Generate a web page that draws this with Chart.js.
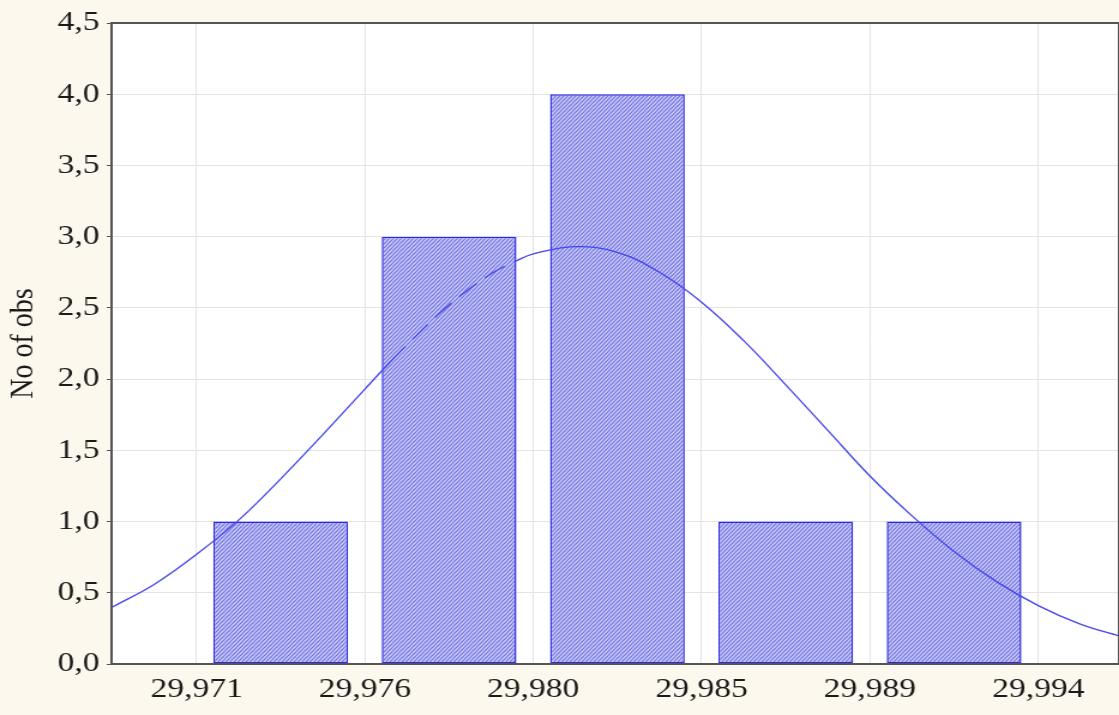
<!DOCTYPE html>
<html>
<head>
<meta charset="utf-8">
<script src="https://cdn.jsdelivr.net/npm/chart.js@4/dist/chart.umd.min.js"></script>
<style>
  html, body { margin: 0; padding: 0; background: #fdf8ee; overflow: hidden; }
  #wrap { width: 933px; height: 715px; transform: scaleX(1.1994); transform-origin: 0 0; }
</style>
</head>
<body>
<div id="wrap"><canvas id="histChart" width="933" height="715"></canvas></div>
<script>
// bin edge labels (ticks 0..5) and bar counts centred between them
const xTickLabels = ['29,971', '29,976', '29,980', '29,985', '29,989', '29,994'];
const binCenters = [0.5, 1.5, 2.5, 3.5, 4.5];
const binCounts = [1, 3, 4, 1, 1];

// fitted normal curve (x in tick units)
const curveX = [-0.5, -0.25, 0, 0.25, 0.5, 0.75, 1, 1.15, 1.25, 1.5, 1.75, 1.9, 2, 2.25, 2.5,
                2.75, 3, 3.25, 3.5, 3.75, 4, 4.25, 4.5, 4.75, 5, 5.25, 5.5];
const curveY = [0.40, 0.56, 0.77, 1.01, 1.30, 1.61, 1.93, 2.12, 2.24, 2.52, 2.74, 2.83, 2.88, 2.93, 2.89,
                2.75, 2.54, 2.27, 1.96, 1.64, 1.32, 1.04, 0.79, 0.58, 0.41, 0.28, 0.19];

// hatch pattern for the bars
function makeHatch(ctx) {
    const c = document.createElement('canvas');
    c.width = 4; c.height = 4;
    const g = c.getContext('2d');
    g.fillStyle = '#dadaf9';
    g.fillRect(0, 0, 4, 4);
    g.strokeStyle = '#6e6ee4';
    g.lineWidth = 1.4;
    g.beginPath();
    g.moveTo(-1, 5); g.lineTo(5, -1);
    g.moveTo(-1, 1); g.lineTo(1, -1);
    g.moveTo(3, 5); g.lineTo(5, 3);
    g.stroke();
    const p = ctx.createPattern(c, 'repeat');
    // page is stretched 1.2x horizontally, undo that so stripes stay at 45deg
    p.setTransform(new DOMMatrix().scale(1 / 1.2, 1));
    return p;
}

const frame = {
    id: 'frame',
    beforeDraw(chart) {
        const { ctx, chartArea: a } = chart;
        ctx.save();
        ctx.fillStyle = '#ffffff';
        ctx.fillRect(a.left, a.top, a.right - a.left, a.bottom - a.top);
        ctx.restore();
    },
    afterDraw(chart) {
        const { ctx, chartArea: a } = chart;
        ctx.save();
        ctx.strokeStyle = '#555555';
        ctx.lineWidth = 2;
        ctx.strokeRect(a.left, a.top, a.right - a.left, a.bottom - a.top);
        ctx.restore();
    }
};

const ctx = document.getElementById('histChart').getContext('2d');
new Chart(ctx, {
    data: {
        datasets: [
            {
                type: 'line',
                data: curveX.map((x, i) => ({ x: x, y: curveY[i] })),
                borderColor: '#4646ee',
                borderWidth: 1.3,
                pointRadius: 0,
                tension: 0.4,
                fill: false,
                segment: {
                    // the curve looks broken where it passes over the second bar
                    borderDash: (s) => (s.p0.parsed.x >= 1.15 && s.p0.parsed.x < 1.9) ? [20, 9] : undefined
                },
                order: 0
            },
            {
                type: 'bar',
                data: binCenters.map((x, i) => ({ x: x, y: binCounts[i] })),
                backgroundColor: makeHatch(ctx),
                borderColor: '#2a2ae0',
                borderWidth: 1.5,
                borderSkipped: false,
                barPercentage: 0.8,
                categoryPercentage: 1,
                order: 1
            }
        ]
    },
    plugins: [frame],
    options: {
        responsive: false,
        animation: false,
        layout: { padding: { top: 23, right: 0, bottom: 0, left: 0 } },
        plugins: { legend: { display: false }, tooltip: { enabled: false } },
        scales: {
            x: {
                type: 'linear',
                offset: false,
                min: -0.505,
                max: 5.48,
                afterBuildTicks: (scale) => { scale.ticks = xTickLabels.map((_, i) => ({ value: i })); },
                afterFit: (scale) => { scale.height = 51; },
                ticks: {
                    callback: (v) => xTickLabels[v],
                    font: { family: 'Liberation Serif', size: 28 },
                    color: '#1a1a1a',
                    padding: 9,
                    maxRotation: 0
                },
                grid: { color: '#e4e4e4', drawTicks: false, offset: false },
                border: { display: false }
            },
            y: {
                min: 0,
                max: 4.5,
                afterFit: (scale) => { scale.width = 93; },
                ticks: {
                    stepSize: 0.5,
                    callback: (v) => v.toFixed(1).replace('.', ','),
                    font: { family: 'Liberation Serif', size: 28 },
                    color: '#1a1a1a',
                    padding: 6
                },
                grid: { color: '#e4e4e4', tickColor: '#555555', tickLength: 4 },
                border: { display: false },
                title: {
                    display: true,
                    text: 'No of obs',
                    font: { family: 'Liberation Serif', size: 28 },
                    color: '#1a1a1a',
                    padding: { top: 3, bottom: 0 }
                }
            }
        }
    }
});
</script>
</body>
</html>
